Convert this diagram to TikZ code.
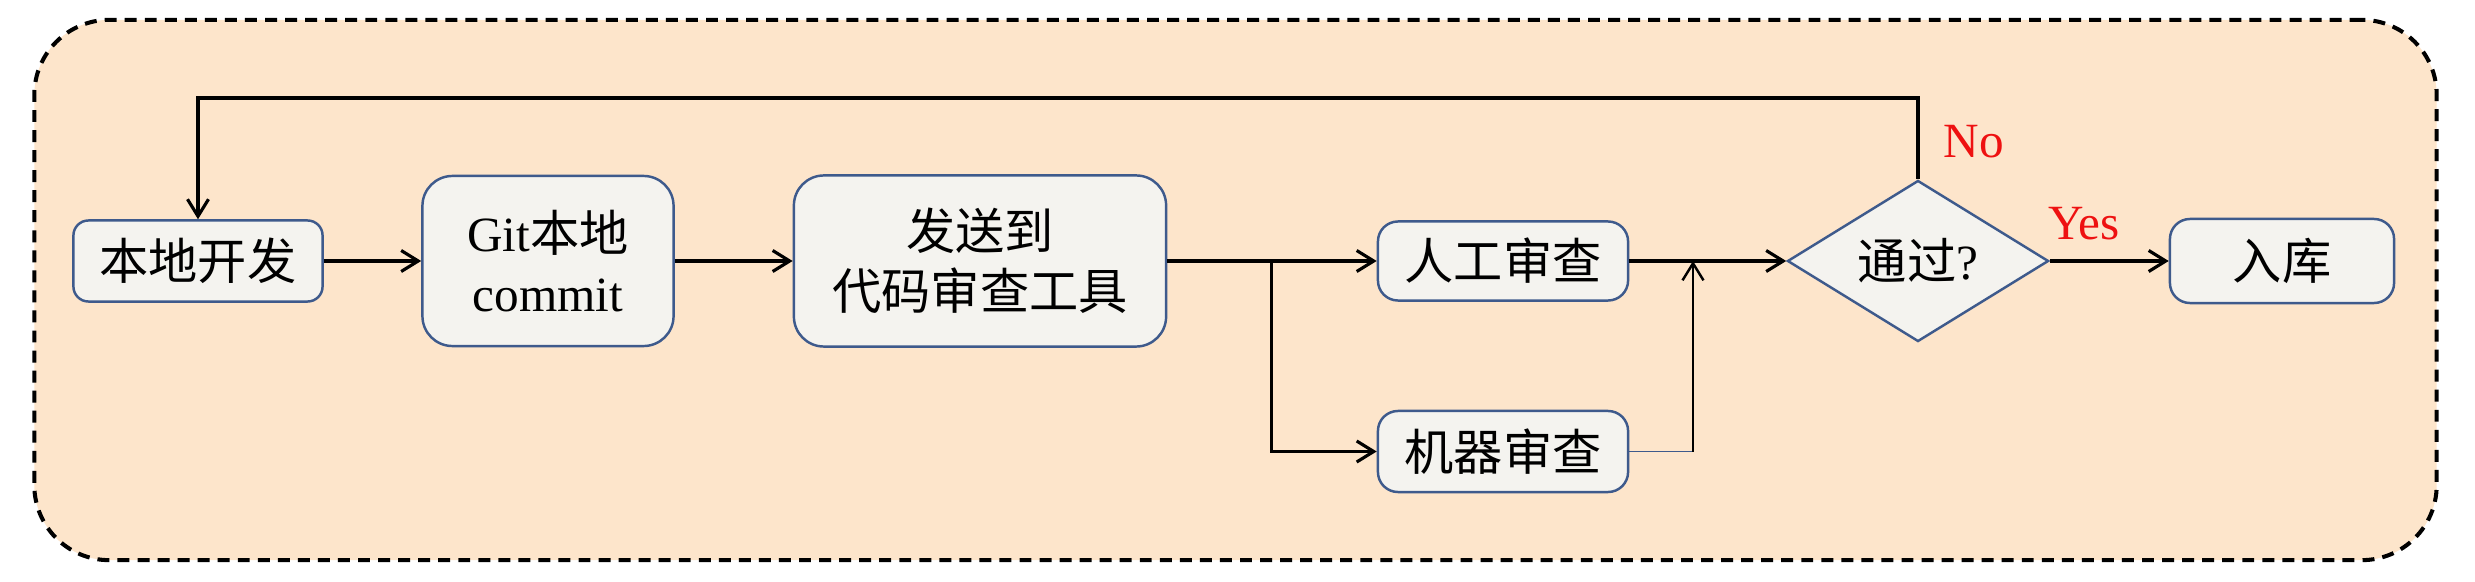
\documentclass[tikz,border=0pt]{standalone}
\usepackage{fontspec}
\setmainfont{Liberation Serif}
\newfontfamily\cjk{Noto Sans CJK SC}
\usetikzlibrary{shapes.geometric,arrows.meta}
\definecolor{bgpeach}{HTML}{FDE5CB}
\definecolor{boxfill}{HTML}{F4F3EF}
\definecolor{boxline}{HTML}{3E5A8C}
\definecolor{lblred}{HTML}{EE1111}
\begin{document}
\begin{tikzpicture}[x=0.01cm,y=-0.01cm,
  font=\fontsize{14pt}{17pt}\selectfont,
  frame/.style={draw=black, fill=bgpeach, line width=1.15pt, dash pattern=on 3.4pt off 2.3pt, rounded corners=7.5mm, inner sep=0pt},
  procbox/.style={draw=boxline, fill=boxfill, line width=0.7pt, rounded corners=#1, align=center, inner sep=0pt},
  decision/.style={draw=boxline, fill=boxfill, line width=0.7pt, shape=diamond, aspect=1.62, inner sep=0pt, minimum width=2.61cm, minimum height=1.61cm},
  arr/.style={draw=black, line width=0.9pt, -{Straight Barb[length=1.7mm,width=2.1mm]}},
  thinarr/.style={draw=black, line width=0.7pt, -{Straight Barb[length=1.7mm,width=2.1mm]}},
  thinblue/.style={draw=boxline, line width=0.4pt},
  lbl/.style={text=lblred, inner sep=0pt}
]
\useasboundingbox (0,0) rectangle (2475,582);
\node[frame, minimum width=24.01cm, minimum height=5.40cm] (frame) at (1235.5,290) {};

\node[procbox=1.5mm, minimum width=2.49cm, minimum height=0.81cm] (dev) at (198,261) {\cjk 本地开发};
\node[procbox=3mm, minimum width=2.51cm, minimum height=1.70cm] (git) at (548,261) {Git{\cjk 本地}\\commit};
\node[procbox=3mm, minimum width=3.72cm, minimum height=1.71cm] (send) at (980,261) {\cjk 发送到\\\cjk 代码审查工具};
\node[procbox=2mm, minimum width=2.50cm, minimum height=0.79cm] (human) at (1503,261) {\cjk 人工审查};
\node[procbox=2mm, minimum width=2.50cm, minimum height=0.81cm] (machine) at (1503,451.5) {\cjk 机器审查};
\node[decision] (dia) at (1918,261) {{\cjk 通过}?};
\node[procbox=2mm, minimum width=2.24cm, minimum height=0.84cm] (store) at (2282,261) {\cjk 入库};

\coordinate (br) at (1271.5,261);
\coordinate (mg) at (1693,451.5);
\coordinate (fb) at (1918,98);

\draw[arr] (dev.east) -- (git.west);
\draw[arr] (git.east) -- (send.west);
\draw[arr] (send.east) -- (human.west);
\draw[arr] (br) |- (machine.west);
\draw[arr] (human.east) -- (dia.west);
\draw[thinblue] (machine.east) -- (mg);
\draw[thinarr] (mg) -- (mg |- human.east);
\draw[arr] (dia.north) -- (fb) -| (dev.north);
\draw[arr] (dia.east) -- (store.west);

\node[lbl] (no) at (1974,142) {No};
\node[lbl] (yes) at (2084,224) {Yes};
\end{tikzpicture}
\end{document}
